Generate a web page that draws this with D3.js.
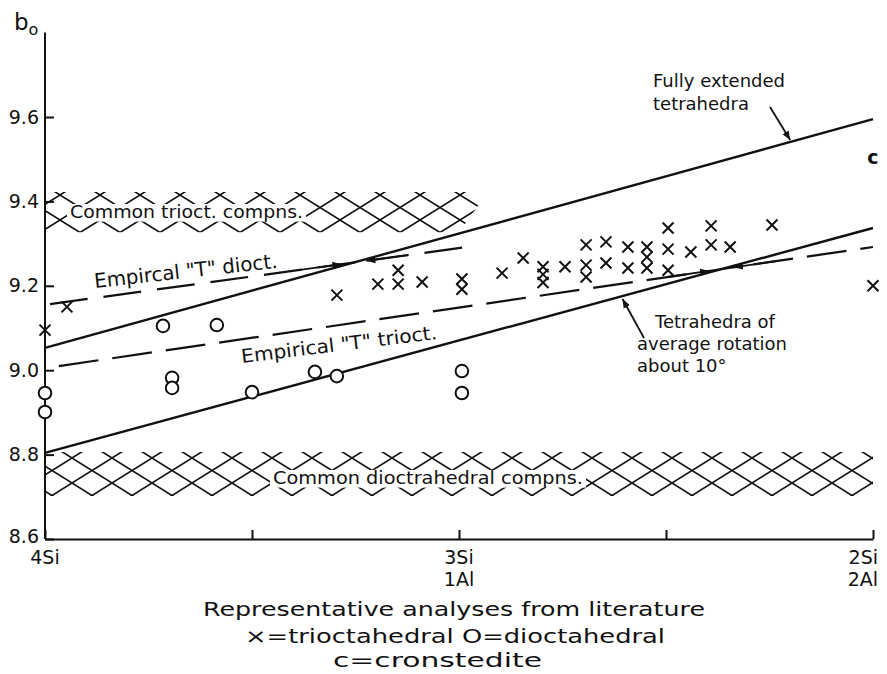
<!DOCTYPE html>
<html>
<head>
<meta charset="utf-8">
<script src="https://cdn.jsdelivr.net/npm/d3@7"></script>
<style>
    body { margin: 0; background: #fff; }
    svg text { font-family: "DejaVu Sans", sans-serif; fill: #111; }
</style>
</head>
<body>
<div id="chart"></div>
<script>
// x = Al per formula unit (4Si at 0, 3Si/1Al at 1, 2Si/2Al at 2), y = b0
var trioctAl = [0, 0.053, 0.705, 0.804, 0.853, 0.853, 0.911, 1.007, 1.007, 1.104, 1.155,
    1.203, 1.203, 1.203, 1.256, 1.307, 1.307, 1.307, 1.355, 1.355, 1.408, 1.408,
    1.454, 1.454, 1.454, 1.505, 1.505, 1.505, 1.56, 1.609, 1.609, 1.655, 1.756, 2.0];
var trioctB = [9.095, 9.15, 9.178, 9.204, 9.237, 9.204, 9.209, 9.216, 9.192, 9.23, 9.266,
    9.245, 9.227, 9.208, 9.245, 9.297, 9.249, 9.221, 9.304, 9.254, 9.292, 9.242,
    9.292, 9.268, 9.242, 9.337, 9.287, 9.237, 9.28, 9.342, 9.297, 9.292, 9.344, 9.2];
var dioctAl = [0, 0, 0.285, 0.415, 0.307, 0.307, 0.5, 0.652, 0.705, 1.007, 1.007];
var dioctB = [8.946, 8.901, 9.105, 9.107, 8.982, 8.958, 8.948, 8.996, 8.986, 8.998, 8.946];
var cronsteditePoint = [2.0, 9.505];

var yTicks = [8.6, 8.8, 9.0, 9.2, 9.4, 9.6];
var xTicks = [0, 0.5, 1, 1.5, 2];
var xTickLabels = { 0: ['4Si'], 1: ['3Si', '1Al'], 2: ['2Si', '2Al'] };

var fullyExtended = [[0, 9.053], [2, 9.595]];
var avgRotation = [[0, 8.804], [2, 9.337]];
var empiricalDioct = [[0, 9.155], [1.02, 9.292]];
var empiricalTrioct = [[0, 9.005], [2, 9.292]];
var trioctBand = [[0, 9.327], [0, 9.422], [1.07, 9.422], [1.0, 9.327]];
var dioctBand = [[0, 8.702], [0, 8.806], [2, 8.806], [2, 8.702]];

(function () {
    var W = 887, H = 674;
    var svg = d3.select('#chart').append('svg')
        .attr('width', W)
        .attr('height', H);

    var x = d3.scaleLinear().domain([0, 2]).range([45, 873]);
    var y = d3.scaleLinear().domain([8.6, 9.6]).range([539, 117]);

    var defs = svg.append('defs');

    function addHatch(id, ox, oy) {
        defs.append('pattern')
            .attr('id', id)
            .attr('patternUnits', 'userSpaceOnUse')
            .attr('width', 40)
            .attr('height', 25)
            .attr('x', ox)
            .attr('y', oy)
            .append('path')
            .attr('d', 'M0,0L40,25M0,25L40,0')
            .attr('stroke', '#111')
            .attr('stroke-width', 1.6)
            .attr('fill', 'none');
    }
    addHatch('hatch-tri', 20, 20);
    addHatch('hatch-di', 32, 8);

    defs.append('marker')
        .attr('id', 'arrow')
        .attr('viewBox', '0 0 10 10')
        .attr('refX', 10)
        .attr('refY', 5)
        .attr('markerWidth', 9)
        .attr('markerHeight', 9)
        .attr('markerUnits', 'userSpaceOnUse')
        .attr('orient', 'auto')
        .append('path')
        .attr('d', 'M0,1L10,5L0,9Z')
        .attr('fill', '#111');

    var line = d3.line()
        .x(function (d) { return x(d[0]); })
        .y(function (d) { return y(d[1]); });

    // Hatched composition bands
    svg.append('path')
        .attr('d', line(trioctBand) + 'Z')
        .attr('fill', 'url(#hatch-tri)');
    svg.append('path')
        .attr('d', line(dioctBand) + 'Z')
        .attr('fill', 'url(#hatch-di)');

    function bandLabel(text, x0, base, len, size) {
        svg.append('rect')
            .attr('x', x0 - 3)
            .attr('y', base - size * 0.78)
            .attr('width', len + 6)
            .attr('height', size * 0.98)
            .attr('fill', '#fff');
        svg.append('text')
            .attr('x', x0)
            .attr('y', base)
            .attr('textLength', len)
            .attr('lengthAdjust', 'spacingAndGlyphs')
            .style('font-size', size + 'px')
            .text(text);
    }
    bandLabel('Common trioct. compns.', 70, 218, 233, 18);
    bandLabel('Common dioctrahedral compns.', 273, 484, 310, 18);

    // Theory lines
    [fullyExtended, avgRotation].forEach(function (seg) {
        svg.append('path')
            .attr('d', line(seg))
            .attr('fill', 'none')
            .attr('stroke', '#111')
            .attr('stroke-width', 2.4);
    });

    // Empirical dashed lines
    svg.append('path')
        .attr('d', line(empiricalDioct))
        .attr('fill', 'none')
        .attr('stroke', '#111')
        .attr('stroke-width', 2.2)
        .attr('stroke-dasharray', '38,16')
        .attr('stroke-dashoffset', -5);
    svg.append('path')
        .attr('d', line(empiricalTrioct))
        .attr('fill', 'none')
        .attr('stroke', '#111')
        .attr('stroke-width', 2.2)
        .attr('stroke-dasharray', '40,14')
        .attr('stroke-dashoffset', -14);

    // small arrows pointing at crossings of dashed and solid lines
    function crossing(a, b) {
        var sa = (a[1][1] - a[0][1]) / (a[1][0] - a[0][0]);
        var sb = (b[1][1] - b[0][1]) / (b[1][0] - b[0][0]);
        var t = (b[0][1] - a[0][1]) / (sa - sb);
        return { al: t, slope: sa, b0: a[0][1] };
    }
    [crossing(empiricalDioct, fullyExtended), crossing(empiricalTrioct, avgRotation)].forEach(function (c) {
        [[-0.13, -0.03], [0.13, 0.03]].forEach(function (o) {
            var p0 = [c.al + o[0], c.b0 + c.slope * (c.al + o[0])];
            var p1 = [c.al + o[1], c.b0 + c.slope * (c.al + o[1])];
            svg.append('path')
                .attr('d', line([p0, p1]))
                .attr('stroke', '#111')
                .attr('stroke-width', 1.8)
                .attr('marker-end', 'url(#arrow)');
        });
    });

    // Axes
    svg.append('line')
        .attr('x1', x(0)).attr('x2', x(0))
        .attr('y1', y(8.6)).attr('y2', y(9.8))
        .attr('stroke', '#111')
        .attr('stroke-width', 2);

    var yAxis = svg.append('g')
        .attr('transform', 'translate(' + x(0) + ',0)')
        .call(d3.axisLeft(y).tickValues(yTicks).tickSize(-9).tickPadding(6)
            .tickFormat(d3.format('.1f')));
    yAxis.select('.domain').remove();
    yAxis.selectAll('line').attr('stroke', '#111').attr('stroke-width', 2);
    yAxis.selectAll('text').style('font-size', '19px').attr('fill', '#111');
    yAxis.selectAll('text').filter(function (d) { return d === 8.6; }).attr('dy', '0.2em');

    var xAxis = svg.append('g')
        .attr('transform', 'translate(0,' + y(8.6) + ')')
        .call(d3.axisBottom(x).tickValues(xTicks).tickSize(-9).tickSizeOuter(0)
            .tickFormat(''));
    xAxis.select('.domain').attr('stroke', '#111').attr('stroke-width', 2);
    xAxis.selectAll('line').attr('stroke', '#111').attr('stroke-width', 2);

    Object.keys(xTickLabels).forEach(function (k) {
        var v = +k;
        var lines = xTickLabels[k];
        lines.forEach(function (s, i) {
            svg.append('text')
                .attr('x', v === 2 ? 878 : x(v))
                .attr('y', 564 + i * 22)
                .attr('text-anchor', v === 2 ? 'end' : 'middle')
                .style('font-size', '19px')
                .text(s);
        });
    });

    // b0 axis label
    var bl = svg.append('text').attr('x', 14).attr('y', 30).style('font-size', '23px');
    bl.append('tspan').text('b');
    bl.append('tspan').attr('dy', 5).style('font-size', '16px').text('o');

    // Data points
    var pts = svg.append('g');
    pts.selectAll('.tri')
        .data(d3.range(trioctAl.length))
        .enter()
        .append('path')
        .attr('class', 'tri')
        .attr('transform', function (i) { return 'translate(' + x(trioctAl[i]) + ',' + y(trioctB[i]) + ')'; })
        .attr('d', 'M-5.5,-5.5L5.5,5.5M5.5,-5.5L-5.5,5.5')
        .attr('stroke', '#111')
        .attr('stroke-width', 2);

    pts.selectAll('.di')
        .data(d3.range(dioctAl.length))
        .enter()
        .append('circle')
        .attr('class', 'di')
        .attr('cx', function (i) { return x(dioctAl[i]); })
        .attr('cy', function (i) { return y(dioctB[i]); })
        .attr('r', 6.3)
        .attr('fill', '#fff')
        .attr('stroke', '#111')
        .attr('stroke-width', 2);

    pts.append('text')
        .attr('x', x(cronsteditePoint[0]))
        .attr('y', y(cronsteditePoint[1]) + 7)
        .attr('text-anchor', 'middle')
        .style('font-size', '19px')
        .style('font-weight', 'bold')
        .text('c');

    // Rotated labels of the empirical lines
    svg.append('text')
        .attr('transform', 'translate(95,288) rotate(-6.3)')
        .attr('textLength', 184)
        .attr('lengthAdjust', 'spacingAndGlyphs')
        .style('font-size', '20px')
        .text('Empircal "T" dioct.');
    svg.append('text')
        .attr('transform', 'translate(242,363) rotate(-7)')
        .attr('textLength', 197)
        .attr('lengthAdjust', 'spacingAndGlyphs')
        .style('font-size', '19px')
        .text('Empirical "T" trioct.');

    // Annotations
    function textLines(lines, x0, y0, dy, size) {
        lines.forEach(function (s, i) {
            svg.append('text')
                .attr('x', Array.isArray(x0) ? x0[i] : x0)
                .attr('y', y0 + i * dy)
                .style('font-size', size + 'px')
                .text(s);
        });
    }
    textLines(['Fully extended', 'tetrahedra'], 653, 87, 23, 18);
    svg.append('path')
        .attr('d', 'M770,107L' + x(1.8) + ',' + (y(9.053 + 0.271 * 1.8) - 2))
        .attr('stroke', '#111')
        .attr('stroke-width', 1.8)
        .attr('marker-end', 'url(#arrow)');

    textLines(['Tetrahedra of', 'average rotation', 'about 10\u00b0'], [655, 637, 637], 328, 22, 18);
    svg.append('path')
        .attr('d', 'M644,338L' + x(1.395) + ',' + (y(8.804 + 0.2665 * 1.395) + 3))
        .attr('stroke', '#111')
        .attr('stroke-width', 1.8)
        .attr('marker-end', 'url(#arrow)');

    // Caption
    var cap = [
        ['Representative analyses from literature', 203, 616, 502],
        ['\u00d7=trioctahedral  O=dioctahedral', 245, 643, 420],
        ['c=cronstedite', 333, 667, 209]
    ];
    cap.forEach(function (c) {
        svg.append('text')
            .attr('x', c[1])
            .attr('y', c[2])
            .attr('textLength', c[3])
            .attr('lengthAdjust', 'spacingAndGlyphs')
            .style('font-size', '20px')
            .text(c[0]);
    });
})();
</script>
</body>
</html>
